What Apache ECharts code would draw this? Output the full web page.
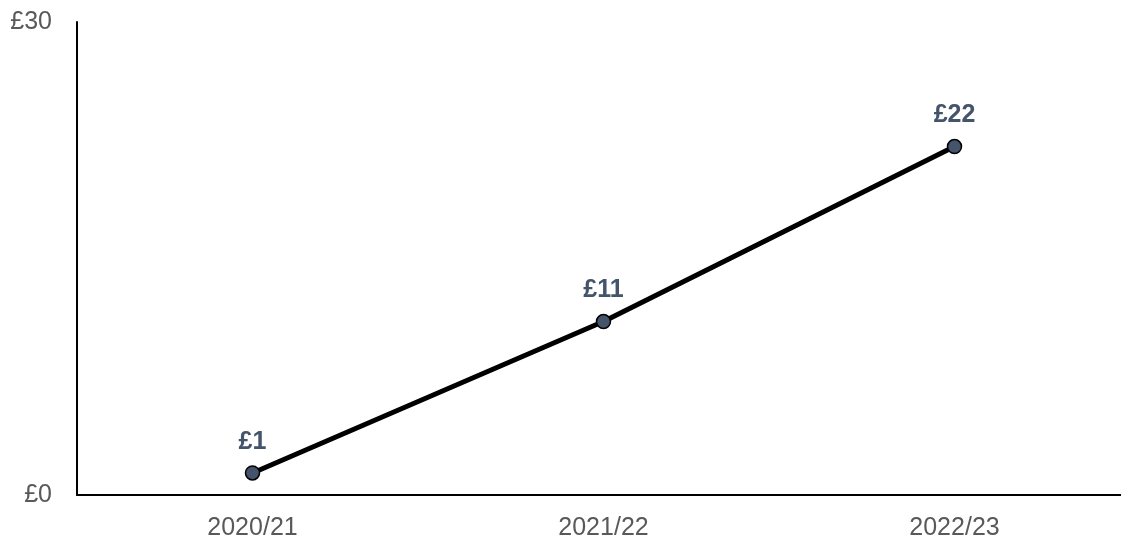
<!DOCTYPE html>
<html>
<head>
<meta charset="utf-8">
<script src="https://cdn.jsdelivr.net/npm/echarts@6/dist/echarts.min.js"></script>
<style>
  html, body { margin: 0; padding: 0; background: #fff; }
  #myChart { width: 1121px; height: 540px; }
</style>
</head>
<body>
<div id="myChart"></div>
<script>
var years = ['2020/21', '2021/22', '2022/23'];
var values = [1.4, 11.0, 22.1];
var yTicks = [0, 30];

var myChart = echarts.init(document.getElementById('myChart'));

var fontFam = 'Arial, "Liberation Sans", sans-serif';

var option = {
    animation: false,
    grid: {
        left: 77,
        top: 22,
        width: 1053,
        height: 473,
        outerBoundsMode: 'none'
    },
    xAxis: {
        type: 'category',
        data: years,
        boundaryGap: true,
        axisLine: { lineStyle: { color: '#000', width: 2 } },
        axisTick: { show: false },
        axisLabel: {
            color: '#595959',
            fontSize: 25,
            fontFamily: fontFam,
            margin: 21
        }
    },
    yAxis: {
        type: 'value',
        min: yTicks[0],
        max: yTicks[1],
        interval: 30,
        splitLine: { show: false },
        axisLine: { show: true, lineStyle: { color: '#000', width: 2 } },
        axisTick: { show: false },
        axisLabel: {
            color: '#595959',
            fontSize: 25,
            fontFamily: fontFam,
            margin: 25,
            formatter: function (v) { return '£' + v; }
        }
    },
    series: [{
        type: 'line',
        data: values,
        symbol: 'circle',
        symbolSize: 14,
        lineStyle: { color: '#000', width: 5 },
        itemStyle: { color: '#44546A', borderColor: '#000', borderWidth: 1.5 },
        label: {
            show: true,
            position: 'top',
            distance: 11,
            color: '#44546A',
            fontSize: 25,
            fontWeight: 'bold',
            fontFamily: fontFam,
            formatter: function (p) { return '£' + Math.round(p.value); }
        }
    }]
};

myChart.setOption(option);
</script>
</body>
</html>
